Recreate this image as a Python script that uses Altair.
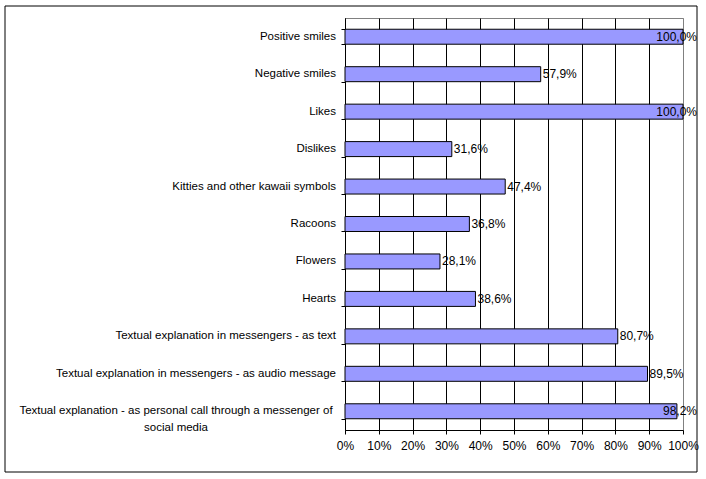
import altair as alt
import pandas as pd

categories = [
    "Positive smiles",
    "Negative smiles",
    "Likes",
    "Dislikes",
    "Kitties and other kawaii symbols",
    "Racoons",
    "Flowers",
    "Hearts",
    "Textual explanation in messengers - as text",
    "Textual explanation in messengers - as audio message",
    "Textual explanation - as personal call through a messenger of social media",
]
values = [100.0, 57.9, 100.0, 31.6, 47.4, 36.8, 28.1, 38.6, 80.7, 89.5, 98.2]
label_lines = [
    ["Positive smiles"],
    ["Negative smiles"],
    ["Likes"],
    ["Dislikes"],
    ["Kitties and other kawaii symbols"],
    ["Racoons"],
    ["Flowers"],
    ["Hearts"],
    ["Textual explanation in messengers - as text"],
    ["Textual explanation in messengers - as audio message"],
    ["Textual explanation - as personal call through a messenger of", "social media"],
]
x_ticks = [0, 10, 20, 30, 40, 50, 60, 70, 80, 90, 100]

df = pd.DataFrame({
    "cat": categories,
    "v": values,
    "lines": label_lines,
    "nlines": [len(l) for l in label_lines],
})

FONT = "Liberation Sans"
FS = 11.5

yscale = alt.Scale(domain=categories, paddingInner=0.6, paddingOuter=0.3)
xscale = alt.Scale(domain=[0, 100], nice=False)

XAX = alt.Axis(
    values=x_ticks, title=None, labelExpr="datum.value + '%'",
    labelOverlap=False, labelBound=False, labelFlush=False,
    grid=True,
    gridColor=alt.condition("datum.value >= 100", alt.value("#808080"), alt.value("black")),
    gridWidth=1, domainColor="black", tickColor="black", tickSize=4,
    labelPadding=6, labelFont=FONT, labelFontSize=12, labelColor="black",
)
YAX = alt.Axis(
    title=None, labels=False, grid=False, tickBand="extent",
    domainColor="black", tickColor="black", tickSize=4,
)

base = alt.Chart(df)
Y = alt.Y("cat:N", scale=yscale, sort=categories, axis=YAX)

bars = base.mark_bar(color="#9999FF", stroke="black", strokeWidth=1).encode(
    x=alt.X("v:Q", scale=xscale, axis=XAX),
    y=Y,
)

fmt = "replace(format(datum.v, '.1f'), '.', ',') + '%'"

val_lbl = base.transform_filter("datum.v <= 95").transform_calculate(t=fmt).mark_text(
    align="left", baseline="middle", dx=2, font=FONT, fontSize=12, color="black"
).encode(x=alt.X("v:Q", scale=xscale, axis=XAX), y=Y, text="t:N")

val_lbl_hi = base.transform_filter("datum.v > 95").transform_calculate(t=fmt, edge="100").mark_text(
    align="right", baseline="middle", dx=14, font=FONT, fontSize=12, color="black"
).encode(x=alt.X("edge:Q", scale=xscale, axis=XAX), y=Y, text="t:N")

cat_lbl = base.transform_filter("datum.nlines == 1").mark_text(
    align="right", baseline="middle", font=FONT, fontSize=FS, color="black"
).encode(x=alt.value(-9), y=Y, text="cat:N")

cat_lbl_wrap = base.transform_filter("datum.nlines > 1").mark_text(
    align="center", baseline="middle", font=FONT, fontSize=FS, color="black", lineHeight=17
).encode(x=alt.value(-169), y=Y, text="lines")

border = alt.Chart(alt.Data(values=[{}])).mark_rect(
    fill=None, stroke="black", strokeWidth=1, clip=False
).encode(x=alt.value(-340), x2=alt.value(352), y=alt.value(-12), y2=alt.value(454))

chart = alt.layer(bars, val_lbl, val_lbl_hi, cat_lbl, cat_lbl_wrap, border).properties(
    width=338, height=412,
    autosize=alt.AutoSizeParams(type="none"),
    padding={"left": 345, "top": 18, "right": 23, "bottom": 49},
    background="white",
).configure_view(stroke="#808080", strokeWidth=1)

chart.save("out.html", embed_options={"renderer": "svg", "actions": False})
